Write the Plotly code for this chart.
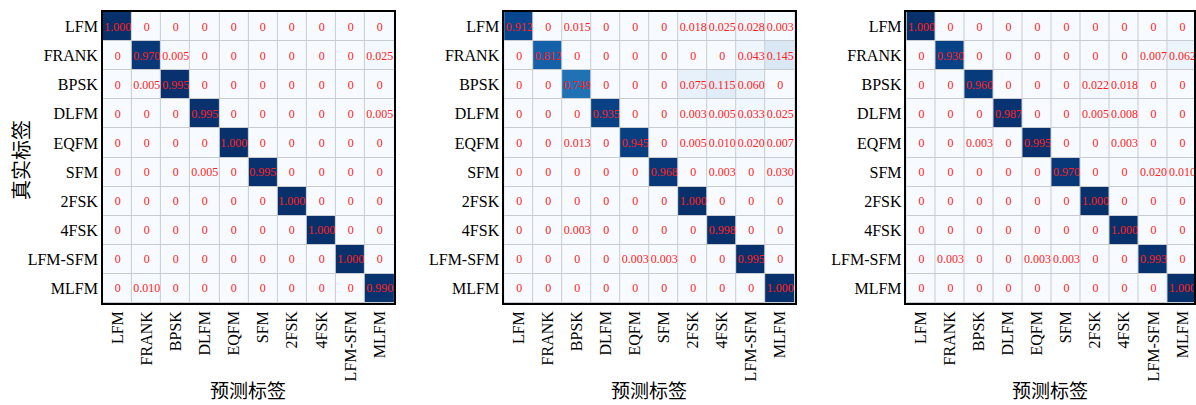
import plotly.graph_objects as go
import plotly.express as px

classes = ["LFM", "FRANK", "BPSK", "DLFM", "EQFM", "SFM", "2FSK", "4FSK", "LFM-SFM", "MLFM"]

cm_a = [
    [1.000, 0, 0, 0, 0, 0, 0, 0, 0, 0],
    [0, 0.970, 0.005, 0, 0, 0, 0, 0, 0, 0.025],
    [0, 0.005, 0.995, 0, 0, 0, 0, 0, 0, 0],
    [0, 0, 0, 0.995, 0, 0, 0, 0, 0, 0.005],
    [0, 0, 0, 0, 1.000, 0, 0, 0, 0, 0],
    [0, 0, 0, 0.005, 0, 0.995, 0, 0, 0, 0],
    [0, 0, 0, 0, 0, 0, 1.000, 0, 0, 0],
    [0, 0, 0, 0, 0, 0, 0, 1.000, 0, 0],
    [0, 0, 0, 0, 0, 0, 0, 0, 1.000, 0],
    [0, 0.010, 0, 0, 0, 0, 0, 0, 0, 0.990],
]

cm_b = [
    [0.912, 0, 0.015, 0, 0, 0, 0.018, 0.025, 0.028, 0.003],
    [0, 0.812, 0, 0, 0, 0, 0, 0, 0.043, 0.145],
    [0, 0, 0.749, 0, 0, 0, 0.075, 0.115, 0.060, 0],
    [0, 0, 0, 0.935, 0, 0, 0.003, 0.005, 0.033, 0.025],
    [0, 0, 0.013, 0, 0.945, 0, 0.005, 0.010, 0.020, 0.007],
    [0, 0, 0, 0, 0, 0.968, 0, 0.003, 0, 0.030],
    [0, 0, 0, 0, 0, 0, 1.000, 0, 0, 0],
    [0, 0, 0.003, 0, 0, 0, 0, 0.998, 0, 0],
    [0, 0, 0, 0, 0.003, 0.003, 0, 0, 0.995, 0],
    [0, 0, 0, 0, 0, 0, 0, 0, 0, 1.000],
]

cm_c = [
    [1.000, 0, 0, 0, 0, 0, 0, 0, 0, 0],
    [0, 0.930, 0, 0, 0, 0, 0, 0, 0.007, 0.062],
    [0, 0, 0.960, 0, 0, 0, 0.022, 0.018, 0, 0],
    [0, 0, 0, 0.987, 0, 0, 0.005, 0.008, 0, 0],
    [0, 0, 0.003, 0, 0.995, 0, 0, 0.003, 0, 0],
    [0, 0, 0, 0, 0, 0.970, 0, 0, 0.020, 0.010],
    [0, 0, 0, 0, 0, 0, 1.000, 0, 0, 0],
    [0, 0, 0, 0, 0, 0, 0, 1.000, 0, 0],
    [0, 0.003, 0, 0, 0.003, 0.003, 0, 0, 0.993, 0],
    [0, 0, 0, 0, 0, 0, 0, 0, 0, 1.000],
]

x_title = "预测标签"
y_title = "真实标签"

W, H = 1196, 405
SERIF = "Liberation Serif, DejaVu Serif, serif"
CJK = "Noto Sans CJK SC"

def fmt(v):
    return "0" if v == 0 else f"{v:.3f}"

# panel pixel extents: (left, right, x-range upper bound)
panels = [(103, 395, 9.5), (505, 796, 9.5), (908, 1196, 9.4)]
top_px, bot_px = 12, 303

fig = go.Figure()
idx = list(range(len(classes)))
for i, (cm, (l, r, xmax)) in enumerate(zip([cm_a, cm_b, cm_c], panels)):
    xa = "x" if i == 0 else f"x{i+1}"
    ya = "y" if i == 0 else f"y{i+1}"
    fig.add_trace(go.Heatmap(
        z=cm, x=idx, y=idx,
        text=[[fmt(v) for v in row] for row in cm],
        texttemplate="%{text}",
        textfont=dict(color="#ff2020", size=12, family=SERIF),
        colorscale=px.colors.sequential.Blues, zmin=0, zmax=1,
        showscale=False, xgap=1, ygap=1, hoverinfo="skip",
        xaxis=xa, yaxis=ya,
    ))
    xkey = "xaxis" if i == 0 else f"xaxis{i+1}"
    ykey = "yaxis" if i == 0 else f"yaxis{i+1}"
    fig.update_layout({
        xkey: dict(
            domain=[l / W, r / W], anchor=ya, range=[-0.5, xmax],
            tickvals=idx, ticktext=classes, tickangle=-90,
            tickfont=dict(family=SERIF, size=16, color="black"),
            showgrid=False, zeroline=False, ticks="",
            showline=True, linecolor="black", linewidth=1.5, mirror=True,
        ),
        ykey: dict(
            domain=[(H - bot_px) / H, (H - top_px) / H], anchor=xa,
            range=[9.5, -0.5],
            tickvals=idx, ticktext=classes,
            tickfont=dict(family=SERIF, size=16, color="black"),
            showgrid=False, zeroline=False, ticks="",
            showline=True, linecolor="black", linewidth=1.5, mirror=True,
        ),
    })
    fig.add_annotation(
        x=(l + min(r, l + 291)) / 2 / W, y=(H - 389) / H, xref="paper", yref="paper",
        text=x_title, showarrow=False, xanchor="center", yanchor="middle",
        font=dict(family=CJK, size=19, color="black"),
    )

fig.add_annotation(
    x=20 / W, y=(H - 160) / H, xref="paper", yref="paper",
    text=y_title, textangle=-90, showarrow=False,
    xanchor="center", yanchor="middle",
    font=dict(family=CJK, size=20, color="black"),
)

fig.update_layout(
    width=W, height=H, margin=dict(l=0, r=0, t=0, b=0),
    paper_bgcolor="white", plot_bgcolor="#c8ccd2",
)

fig.write_html("out.html")
